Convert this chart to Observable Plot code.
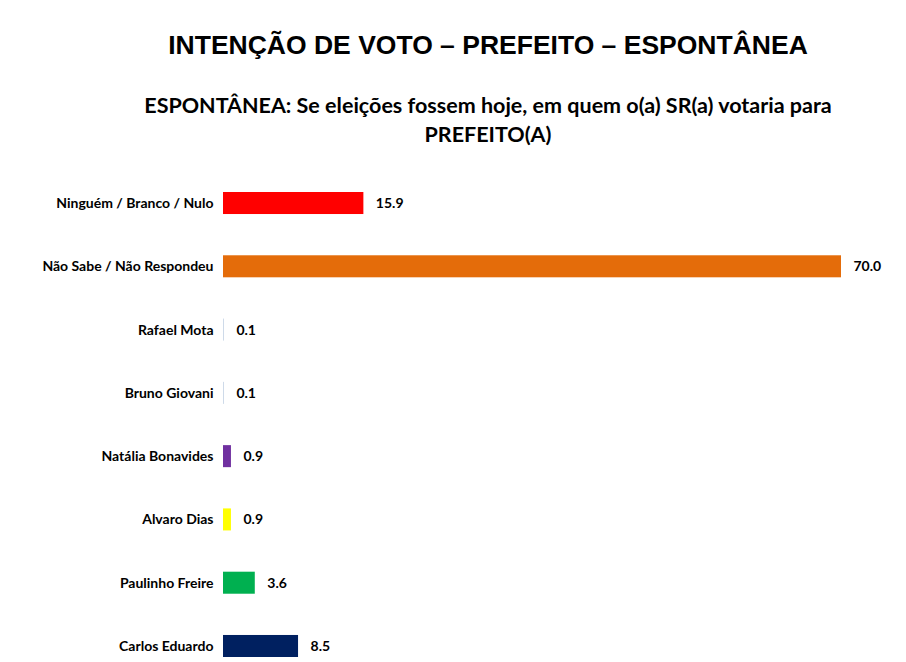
<!DOCTYPE html>
<html>
<head>
<meta charset="utf-8">
<script src="https://cdn.jsdelivr.net/npm/d3@7"></script>
<script src="https://cdn.jsdelivr.net/npm/@observablehq/plot@0.6"></script>
<style>
  html, body { margin: 0; padding: 0; background: #fff; }
  #wrap { position: relative; width: 906px; height: 662px; overflow: hidden; }
  #title { position: absolute; left: 0; width: 976px; top: 29px; line-height: 32px; text-align: center;
    font-family: "Liberation Sans", Arial, sans-serif; font-weight: bold; font-size: 26.5px; color: #000; }
  #subtitle { position: absolute; left: 0; width: 976px; top: 91px; line-height: 29px; text-align: center;
    font-family: Lato, "Open Sans", sans-serif; font-weight: bold; font-size: 21.5px; color: #000; }
  #chart { position: absolute; left: 0; top: 150px; }
</style>
</head>
<body>
<div id="wrap">
  <div id="title">INTENÇÃO DE VOTO – PREFEITO – ESPONTÂNEA</div>
  <div id="subtitle">ESPONTÂNEA: Se eleições fossem hoje, em quem o(a) SR(a) votaria para<br>PREFEITO(A)</div>
  <div id="chart"></div>
</div>
<script>
const categories = ["Ninguém / Branco / Nulo", "Não Sabe / Não Respondeu", "Rafael Mota", "Bruno Giovani",
  "Natália Bonavides", "Alvaro Dias", "Paulinho Freire", "Carlos Eduardo"];
const values = [15.9, 70.0, 0.1, 0.1, 0.9, 0.9, 3.6, 8.5];
const colors = ["#ff0000", "#e46c0a", "#c8d6e6", "#c8d6e6", "#7030a0", "#ffff00", "#00b050", "#002060"];

const data = categories.map((c, i) => ({category: c, value: values[i], color: colors[i]}));

const chart = Plot.plot({
  width: 906,
  height: 512,
  marginLeft: 223,
  marginRight: 65,
  marginTop: 42,
  marginBottom: 5,
  style: {background: "transparent", fontFamily: "Lato, 'Open Sans', sans-serif"},
  x: {domain: [0, 70], axis: null},
  y: {domain: categories, paddingInner: 0.652, paddingOuter: 0, round: false, label: null},
  marks: [
    Plot.barX(data, {y: "category", x: "value", fill: d => d.color}),
    Plot.text(data, {y: "category", x: "value", text: d => d.value.toFixed(1), dx: 12, textAnchor: "start",
      fontSize: 14, fontWeight: "bold", fill: "#000"}),
    Plot.axisY({tickSize: 0, tickPadding: 10, fontSize: 14, fontWeight: "bold", label: null})
  ]
});
chart.querySelectorAll("[aria-label='y-axis tick label'] text, [aria-label='y-axis tick label']").forEach(e => {
  e.setAttribute("font-weight", "bold"); e.setAttribute("fill", "#000");
});
document.getElementById("chart").appendChild(chart);
</script>
</body>
</html>
